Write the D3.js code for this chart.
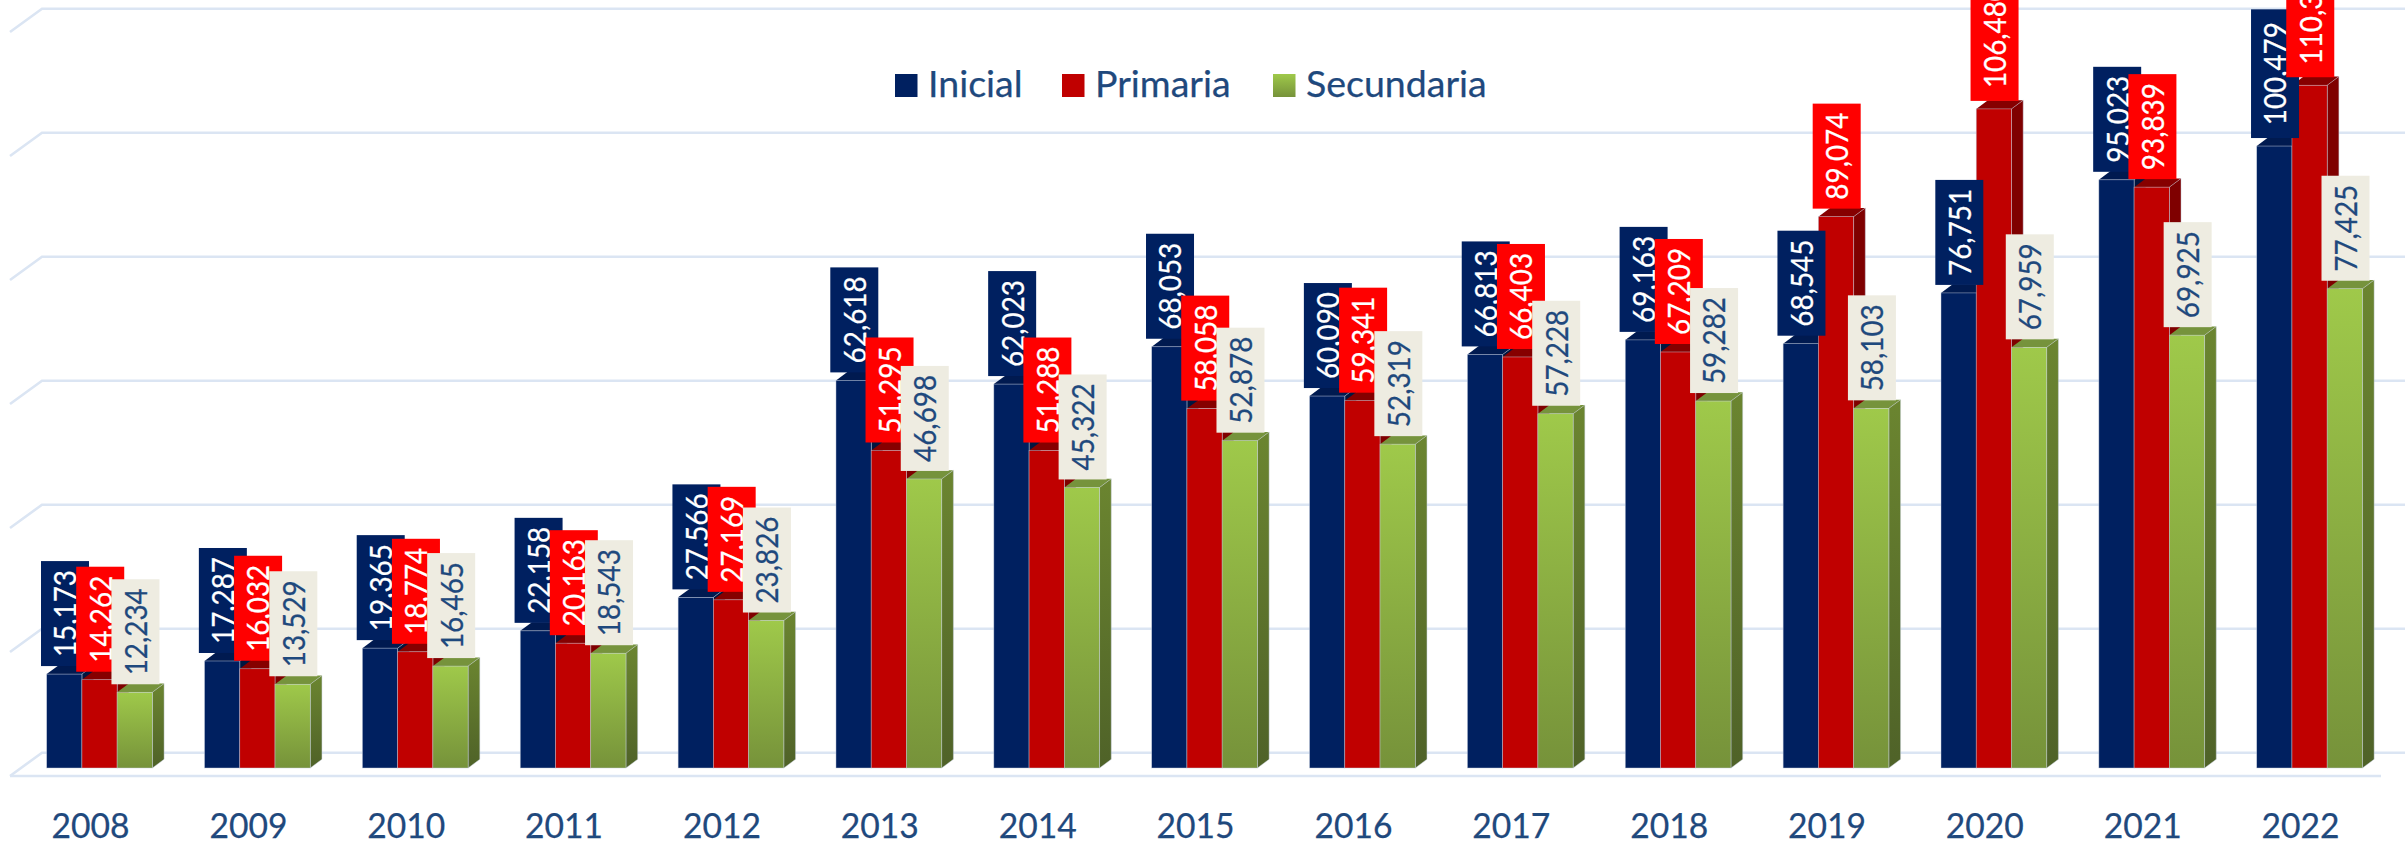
<!DOCTYPE html>
<html>
<head>
<meta charset="utf-8">
<style>
html,body{margin:0;padding:0;background:#fff;overflow:hidden}
svg{display:block;font-family:Lato,"Open Sans",sans-serif}
</style>
<script src="https://cdn.jsdelivr.net/npm/d3@7"></script>
</head>
<body>
<svg id="c" width="2405" height="845"></svg>
<script>
const years = [2008,2009,2010,2011,2012,2013,2014,2015,2016,2017,2018,2019,2020,2021,2022];
const seriesNames = ["Inicial","Primaria","Secundaria"];
const inicial = [15173,17287,19365,22158,27566,62618,62023,68053,60090,66813,69163,68545,76751,95023,100479];
const primaria = [14262,16032,18774,20163,27169,51295,51288,58058,59341,66403,67209,89074,106480,93839,110300];
const secundaria = [12234,13529,16465,18543,23826,46698,45322,52878,52319,57228,59282,58103,67959,69925,77425];
const gridTicks = [0,20000,40000,60000,80000,100000,120000];

const W = 2405, H = 845;
const baseY = 768, pxPerUnit = 0.00619;
const depthX = 11.7, depthY = 8.7;
const wallY0 = 752.7, floorY0 = 776, wallX = 42, floorX = 10;

const svg = d3.select("#c");
const defs = svg.append("defs");
function grad(id, a, b){
  const g = defs.append("linearGradient").attr("id",id).attr("x1",0).attr("y1",0).attr("x2",0).attr("y2",1);
  g.append("stop").attr("offset","0%").attr("stop-color",a);
  g.append("stop").attr("offset","100%").attr("stop-color",b);
}
grad("gFront","#9fc94a","#76923a");
grad("gSide","#6b8530","#4f6228");

const x = d3.scaleBand().domain(years).range([20.6, 20.6 + 15*157.86]).paddingInner(0.3304).paddingOuter(0.1652);
const xs = d3.scaleBand().domain(seriesNames).range([0, x.bandwidth()]);
const y = d3.scaleLinear().domain([0,120000]).range([baseY, baseY - 120000*pxPerUnit]);
const wall = d3.scaleLinear().domain([0,120000]).range([wallY0, wallY0 - 120000*0.00620]);

// grid
const gridColor = "#dbe5f3";
const grid = svg.append("g").attr("fill","none").attr("stroke",gridColor).attr("stroke-width",2.6);
grid.selectAll("path").data(gridTicks).join("path")
  .attr("d", d => `M${floorX},${wall(d)+23.3}L${wallX},${wall(d)}L${W},${wall(d)}`);
grid.append("line").attr("x1",floorX).attr("x2",2381).attr("y1",floorY0).attr("y2",floorY0);

const styles = {
  Inicial:   {front:"#002060", side:"#001640", top:"#001a50", label:"#002060", text:"#ffffff", vals:inicial},
  Primaria:  {front:"#c00000", side:"#7f0000", top:"#860000", label:"#ff0000", text:"#ffffff", vals:primaria},
  Secundaria:{front:"url(#gFront)", side:"url(#gSide)", top:"#76933c", label:"#eeece1", text:"#1f497d", vals:secundaria}
};
const edge = "rgba(196,206,222,0.75)";

// bars
seriesNames.forEach(name => {
  const s = styles[name];
  const g = svg.append("g");
  s.vals.forEach((v,i) => {
    const x0 = x(years[i]) + xs(name), w = xs.bandwidth(), t = y(v), b = y(0);
    g.append("path").attr("fill",s.top)
      .attr("d",`M${x0},${t}L${x0+depthX},${t-depthY}L${x0+w+depthX},${t-depthY}L${x0+w},${t}Z`);
    g.append("path").attr("fill",s.side).attr("stroke",edge).attr("stroke-width",0.6)
      .attr("d",`M${x0+w},${t}L${x0+w+depthX},${t-depthY}L${x0+w+depthX},${b-depthY}L${x0+w},${b}Z`);
    g.append("rect").attr("x",x0).attr("y",t).attr("width",w).attr("height",b-t)
      .attr("fill",s.front).attr("stroke",edge).attr("stroke-width",0.6);
  });
});

// labels
const fmt = d3.format(",");
const labelW = 48, labelGap = 8;
seriesNames.forEach(name => {
  const s = styles[name];
  const g = svg.append("g");
  s.vals.forEach((v,i) => {
    const cx = x(years[i]) + xs(name) + xs.bandwidth()/2 + 0.7;
    const str = fmt(v);
    const h = v >= 100000 ? 128.7 : 105;
    const bottom = y(v) - labelGap;
    g.append("rect").attr("x",cx-labelW/2).attr("y",bottom-h).attr("width",labelW).attr("height",h).attr("fill",s.label);
    g.append("text").attr("transform",`translate(${cx+0.4},${bottom-h/2}) rotate(-90)`)
      .attr("text-anchor","middle").attr("dy","0.36em")
      .attr("font-size",30.5).attr("fill",s.text)
      .attr("stroke",s.text).attr("stroke-width",0.25)
      .attr("textLength", v >= 100000 ? 103 : 87).attr("lengthAdjust","spacingAndGlyphs")
      .text(str);
  });
});

// category axis
const axis = svg.append("g").attr("transform",`translate(-9,${800})`)
  .call(d3.axisBottom(x).tickSize(0).tickPadding(0));
axis.select(".domain").remove();
axis.selectAll("text").attr("font-family","Lato").attr("font-size",35).attr("fill","#1f497d")
  .attr("stroke","#1f497d").attr("stroke-width",0.25)
  .attr("dy",0).attr("y",38).attr("textLength",78).attr("lengthAdjust","spacingAndGlyphs");

// legend
const legendX = d3.scaleOrdinal().domain(seriesNames).range([895,1062,1273]);
const lg = svg.append("g");
seriesNames.forEach(name => {
  const s = styles[name];
  lg.append("rect").attr("x",legendX(name)).attr("y",74).attr("width",22.5).attr("height",23).attr("fill",s.front);
  lg.append("text").attr("x",legendX(name)+33).attr("y",96.7).attr("font-size",37.5).attr("fill","#1f497d")
    .attr("stroke","#1f497d").attr("stroke-width",0.25).text(name);
});
</script>
</body>
</html>
